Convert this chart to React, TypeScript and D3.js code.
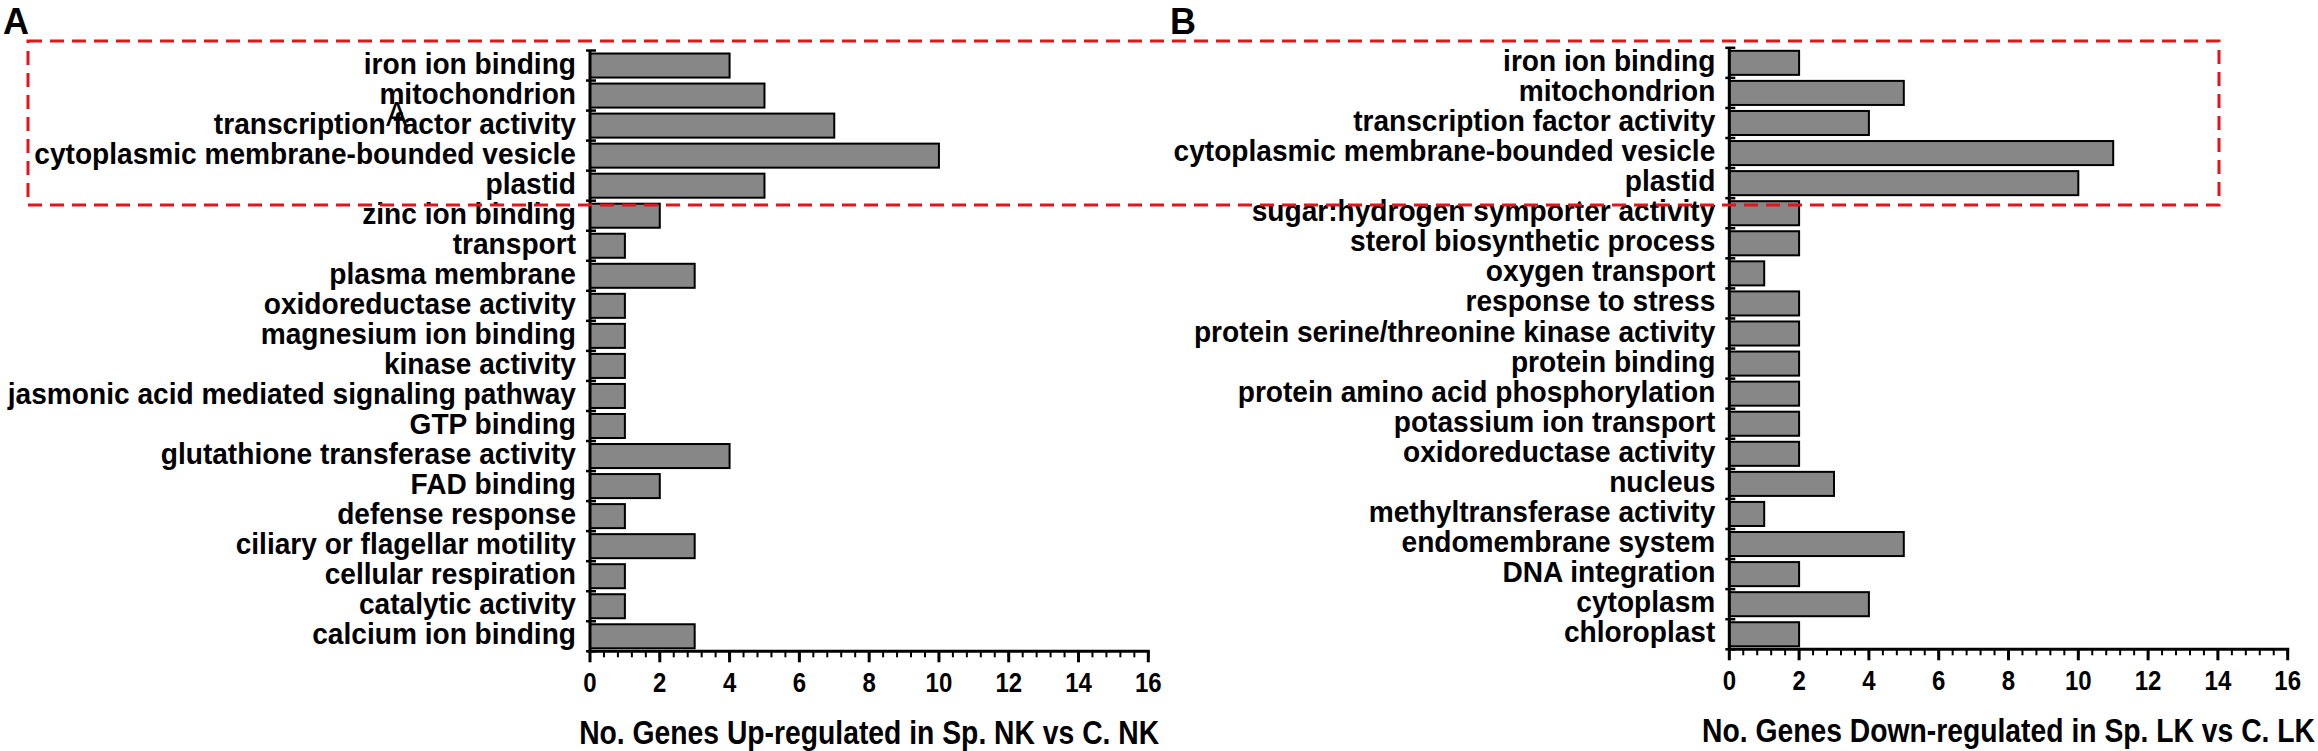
import React from 'react';
import * as d3 from 'd3';

const categoriesA = [
  'iron ion binding',
  'mitochondrion',
  'transcription factor activity',
  'cytoplasmic membrane-bounded vesicle',
  'plastid',
  'zinc ion binding',
  'transport',
  'plasma membrane',
  'oxidoreductase activity',
  'magnesium ion binding',
  'kinase activity',
  'jasmonic acid mediated signaling pathway',
  'GTP binding',
  'glutathione transferase activity',
  'FAD binding',
  'defense response',
  'ciliary or flagellar motility',
  'cellular respiration',
  'catalytic activity',
  'calcium ion binding',
];
const valuesA = [4, 5, 7, 10, 5, 2, 1, 3, 1, 1, 1, 1, 1, 4, 2, 1, 3, 1, 1, 3];

const categoriesB = [
  'iron ion binding',
  'mitochondrion',
  'transcription factor activity',
  'cytoplasmic membrane-bounded vesicle',
  'plastid',
  'sugar:hydrogen symporter activity',
  'sterol biosynthetic process',
  'oxygen transport',
  'response to stress',
  'protein serine/threonine kinase activity',
  'protein binding',
  'protein amino acid phosphorylation',
  'potassium ion transport',
  'oxidoreductase activity',
  'nucleus',
  'methyltransferase activity',
  'endomembrane system',
  'DNA integration',
  'cytoplasm',
  'chloroplast',
];
const valuesB = [2, 5, 4, 11, 10, 2, 2, 1, 2, 2, 2, 2, 2, 2, 3, 1, 5, 2, 4, 2];

const xTickValues = [0, 2, 4, 6, 8, 10, 12, 14, 16];
const xMax = 16;
const titleA = 'No. Genes Up-regulated in Sp. NK vs C. NK';
const titleB = 'No. Genes Down-regulated in Sp. LK vs C. LK';

const FONT = '"Liberation Sans", Arial, Helvetica, sans-serif';
const STRETCH = 1.08;

type TProps = {
  x: number;
  y: number;
  size: number;
  anchor?: 'start' | 'middle' | 'end';
  weight?: string;
  k?: number;
  children: React.ReactNode;
};

function T({ x, y, size, anchor = 'start', weight = 'bold', k = STRETCH, children }: TProps) {
  return (
    <text
      transform={`translate(${x},${y}) scale(1,${k})`}
      textAnchor={anchor}
      fontFamily={FONT}
      fontWeight={weight}
      fontSize={size}
      fill="#000"
    >
      {children}
    </text>
  );
}

type PanelProps = {
  cats: string[];
  vals: number[];
  left: number;
  right: number;
  top: number;
  bottom: number;
  title: string;
};

function Panel({ cats, vals, left, right, top, bottom, title }: PanelProps) {
  const x = d3.scaleLinear().domain([0, xMax]).range([left, right]);
  const y = d3.scaleBand<string>().domain(cats).range([top, bottom]).padding(0);
  const step = y.step();
  const minor = d3.range(0, xMax + 0.001, 0.4);
  const bounds = d3.range(0, cats.length + 1).map((i) => top + i * step);
  return (
    <g>
      {cats.map((c, i) => (
        <rect
          key={c}
          x={x(0)}
          y={(y(c) as number) + step * 0.1}
          width={x(vals[i]) - x(0)}
          height={step * 0.8}
          fill="#878787"
          stroke="#000"
          strokeWidth={2}
        />
      ))}
      {cats.map((c) => (
        <T key={'l' + c} x={x(0) - 14} y={(y(c) as number) + step / 2 + 8} size={28.1} anchor="end">
          {c}
        </T>
      ))}
      {/* y axis */}
      <line x1={x(0)} x2={x(0)} y1={top} y2={bottom} stroke="#000" strokeWidth={3} />
      {bounds.map((b, i) => (
        <line key={'yt' + i} x1={x(0) - 4} x2={x(0) + 6} y1={b} y2={b} stroke="#000" strokeWidth={2.5} />
      ))}
      {/* x axis */}
      <line x1={x(0) - 1.5} x2={x(xMax) + 1.5} y1={bottom} y2={bottom} stroke="#000" strokeWidth={3} />
      {minor.map((v, i) => (
        <line key={'mt' + i} x1={x(v)} x2={x(v)} y1={bottom} y2={bottom + 6} stroke="#000" strokeWidth={2} />
      ))}
      {xTickValues.map((v) => (
        <g key={'xt' + v}>
          <line x1={x(v)} x2={x(v)} y1={bottom} y2={bottom + 11} stroke="#000" strokeWidth={3} />
          <T x={x(v)} y={bottom + 41} size={24} anchor="middle" k={1.15}>
            {v}
          </T>
        </g>
      ))}
      <T x={(x(0) + x(xMax)) / 2} y={bottom + 93} size={28.3} anchor="middle" k={1.15}>
        {title}
      </T>
    </g>
  );
}

export default function App() {
  return (
    <svg
      width={2318}
      height={751}
      style={{ position: 'absolute', left: 0, top: 0, background: '#fff' }}
    >
      <rect x={0} y={0} width={2318} height={751} fill="#fff" />
      <Panel cats={categoriesA} vals={valuesA} left={590} right={1148.3} top={50.5} bottom={651.3} title={titleA} />
      <Panel cats={categoriesB} vals={valuesB} left={1729.3} right={2287.7} top={47.8} bottom={649.3} title={titleB} />
      <T x={3} y={34} size={36} k={1.05}>A</T>
      <T x={1170} y={34} size={36} k={1.05}>B</T>
      <T x={386} y={126} size={32} weight="normal" k={1.1}>A</T>
      <rect
        x={28}
        y={41}
        width={2219 - 28}
        height={205 - 41}
        fill="none"
        stroke="#e3141b"
        strokeWidth={3}
        strokeDasharray="14 8"
      />
    </svg>
  );
}
